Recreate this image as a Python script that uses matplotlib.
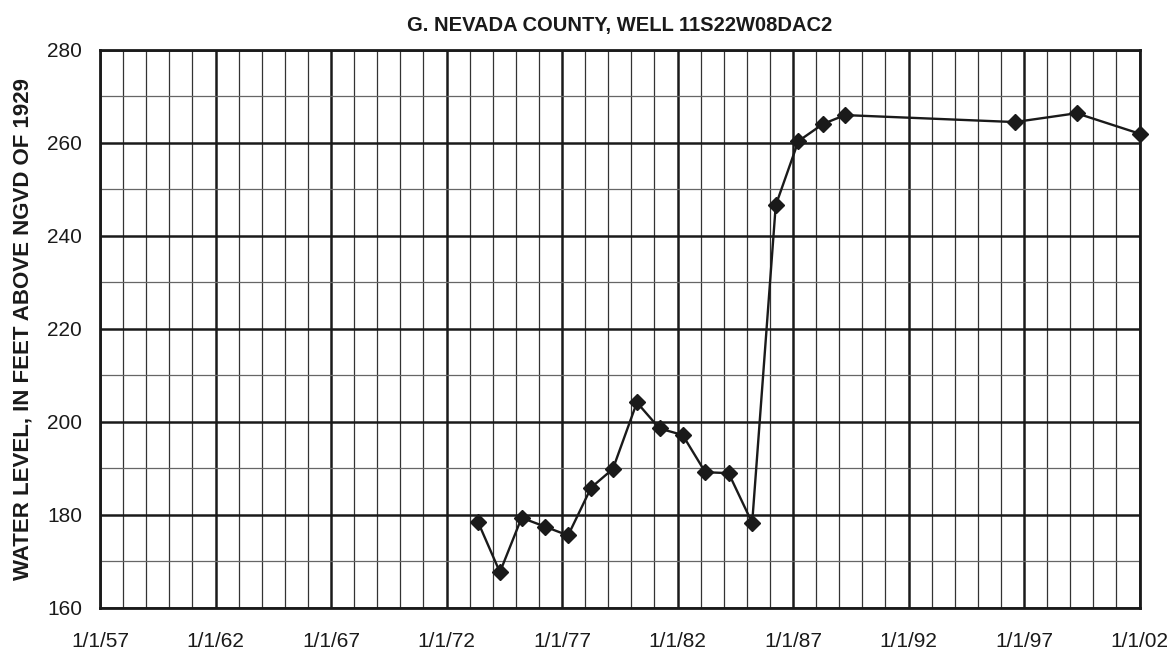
import numpy as np
import matplotlib
matplotlib.use('Agg')
from matplotlib import pyplot as plt
from matplotlib.ticker import MultipleLocator

plt.rcParams['font.family'] = ['Liberation Sans', 'DejaVu Sans']

# measurement dates as decimal years, water level in feet
years = [1973.37, 1974.31, 1975.25, 1976.26, 1977.26, 1978.26, 1979.20,
         1980.24, 1981.22, 1982.22, 1983.20, 1984.21, 1985.23, 1986.25,
         1987.23, 1988.30, 1989.25, 1996.60, 1999.27, 2002.0]
levels = [178.4, 167.7, 179.4, 177.5, 175.6, 185.9, 189.9,
          204.2, 198.6, 197.2, 189.2, 189.0, 178.3, 246.6,
          260.4, 264.1, 266.0, 264.5, 266.4, 262.0]

tick_years = [1957, 1962, 1967, 1972, 1977, 1982, 1987, 1992, 1997, 2002]
tick_labels = ['1/1/57', '1/1/62', '1/1/67', '1/1/72', '1/1/77',
               '1/1/82', '1/1/87', '1/1/92', '1/1/97', '1/1/02']

fig = plt.figure(figsize=(11.7, 6.56), dpi=100)
ax = fig.add_axes([0.0855, 0.0732, 0.8885, 0.8506])

ax.set_xlim(1957, 2002)
ax.set_ylim(160, 280)
ax.set_xticks(tick_years)
ax.set_xticklabels(tick_labels)
ax.xaxis.set_minor_locator(MultipleLocator(1))
ax.yaxis.set_major_locator(MultipleLocator(20))
ax.yaxis.set_minor_locator(MultipleLocator(10))

ax.grid(which='major', color='#1a1a1a', linewidth=1.8)
ax.grid(which='minor', axis='x', color='#333333', linewidth=0.9)
ax.grid(which='minor', axis='y', color='#666666', linewidth=0.9)
ax.set_axisbelow(True)

for s in ax.spines.values():
    s.set_linewidth(2)
    s.set_color('#1a1a1a')

ax.tick_params(which='both', length=0, labelsize=15, colors='#1a1a1a')
ax.tick_params(axis='x', pad=17)
ax.tick_params(axis='y', pad=13)

ax.plot(years, levels, color='#1a1a1a', linewidth=1.7, marker='D',
        markersize=8.5, clip_on=False, zorder=5)

ax.set_title('G. NEVADA COUNTY, WELL 11S22W08DAC2', fontsize=14.5,
             fontweight='bold', pad=14, color='#1a1a1a')
ax.set_ylabel('WATER LEVEL, IN FEET ABOVE NGVD OF 1929', fontsize=16,
              fontweight='bold', labelpad=10, color='#1a1a1a')

fig.savefig('out.png', dpi=100)
plt.close()
